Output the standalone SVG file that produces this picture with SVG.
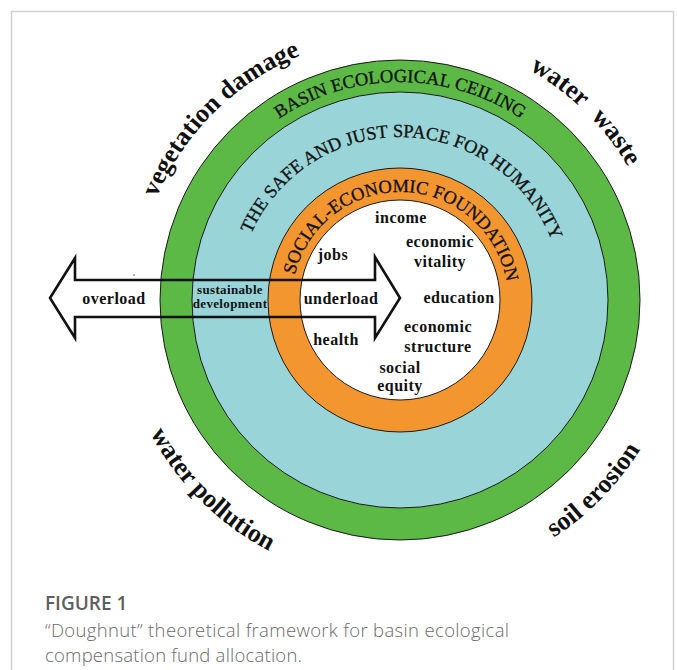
<svg xmlns="http://www.w3.org/2000/svg" xmlns:xlink="http://www.w3.org/1999/xlink" width="677" height="670" viewBox="0 0 677 670">
<style>
.ring{stroke:#1a1a1a;stroke-width:1}
.ringlbl{font-family:"Liberation Serif","Times New Roman",serif;font-size:18.5px;fill:#111;stroke:#111;stroke-width:0.3}
.outer{font-family:"Liberation Serif","Times New Roman",serif;font-size:26px;font-weight:bold;fill:#111}
.in{font-family:"Liberation Serif","Times New Roman",serif;font-size:16px;font-weight:bold;fill:#111;text-anchor:middle;letter-spacing:0.5px}
.sd{font-family:"Liberation Serif","Times New Roman",serif;font-size:13px;font-weight:bold;fill:#111;text-anchor:middle;letter-spacing:0.35px}
.cap{font-family:"Open Sans","Liberation Sans",sans-serif;font-size:18.5px;font-weight:300;fill:#6b6b6b}
.fig{font-family:"Open Sans","Liberation Sans",sans-serif;font-size:19px;font-weight:600;fill:#5f5f5f}
</style>
<defs>
<path id="t218" d="M182,300 A218,218 0 0 1 618,300"/>
<path id="t163" d="M237,300 A163,163 0 0 1 563,300"/>
<path id="t108" d="M292,300 A108,108 0 0 1 508,300"/>
<path id="t264" d="M136,300 A264,264 0 0 1 664,300"/>
<path id="b283" d="M117,300 A283,283 0 0 0 683,300"/>
</defs>
<rect x="0" y="0" width="677" height="670" fill="#fff"/>
<rect x="11.5" y="11.5" width="662" height="700" fill="none" stroke="#d2d2d2" stroke-width="1.5"/>

<g id="basin-ecological-ceiling">
<circle class="ring" cx="400" cy="300" r="240" fill="#5cb946"/>
<text class="ringlbl" text-anchor="middle"><textPath xlink:href="#t218" href="#t218" startOffset="50%">BASIN ECOLOGICAL CEILING</textPath></text>
</g>
<g id="safe-just-space">
<circle class="ring" cx="400" cy="300" r="208" fill="#98d4d8"/>
<text class="ringlbl" text-anchor="middle"><textPath xlink:href="#t163" href="#t163" startOffset="259.4">THE SAFE AND JUST SPACE FOR HUMANITY</textPath></text>
</g>
<g id="social-economic-foundation">
<circle class="ring" cx="400" cy="300" r="132" fill="#f4962f"/>
<circle class="ring" cx="400" cy="300" r="100" fill="#ffffff"/>
<text class="ringlbl" text-anchor="middle"><textPath xlink:href="#t108" href="#t108" startOffset="173">SOCIAL-ECONOMIC FOUNDATION</textPath></text>
</g>

<g id="pressures">
<text class="outer" text-anchor="middle"><textPath xlink:href="#t264" href="#t264" startOffset="208.7">vegetation damage</textPath></text>
<text class="outer" text-anchor="middle" word-spacing="8"><textPath xlink:href="#t264" href="#t264" startOffset="619.7">water waste</textPath></text>
<text class="outer" text-anchor="middle"><textPath xlink:href="#b283" href="#b283" startOffset="223.7">water pollution</textPath></text>
<text class="outer" text-anchor="middle"><textPath xlink:href="#b283" href="#b283" startOffset="669.2">soil erosion</textPath></text>
</g>

<g id="connectors">
<path d="M50,298 L75,258 L75,280 L375,280 L375,257 L400,298 L375,338 L375,317 L75,317 L75,338 Z" fill="none" stroke="#111" stroke-width="2.6" stroke-linejoin="miter"/>
<circle cx="134" cy="275" r="0.8" fill="#555"/>
</g>

<g id="arrow-labels">
<text class="in" x="114" y="304">overload</text>
<text class="sd" x="230" y="294">sustainable</text>
<text class="sd" x="230" y="308">development</text>
<text class="in" x="341" y="304">underload</text>
</g>

<g id="foundation-items">
<text class="in" x="401" y="223">income</text>
<text class="in" x="440" y="247">economic</text>
<text class="in" x="440" y="267">vitality</text>
<text class="in" x="333" y="260">jobs</text>
<text class="in" x="459" y="303">education</text>
<text class="in" x="438" y="332">economic</text>
<text class="in" x="438" y="352">structure</text>
<text class="in" x="336" y="345">health</text>
<text class="in" x="400" y="373">social</text>
<text class="in" x="400" y="391">equity</text>
</g>

<g id="caption">
<text class="fig" x="45" y="610">FIGURE 1</text>
<text class="cap" x="45" y="637" textLength="464" lengthAdjust="spacing">“Doughnut” theoretical framework for basin ecological</text>
<text class="cap" x="45" y="662" textLength="257" lengthAdjust="spacing">compensation fund allocation.</text>
</g>
</svg>
